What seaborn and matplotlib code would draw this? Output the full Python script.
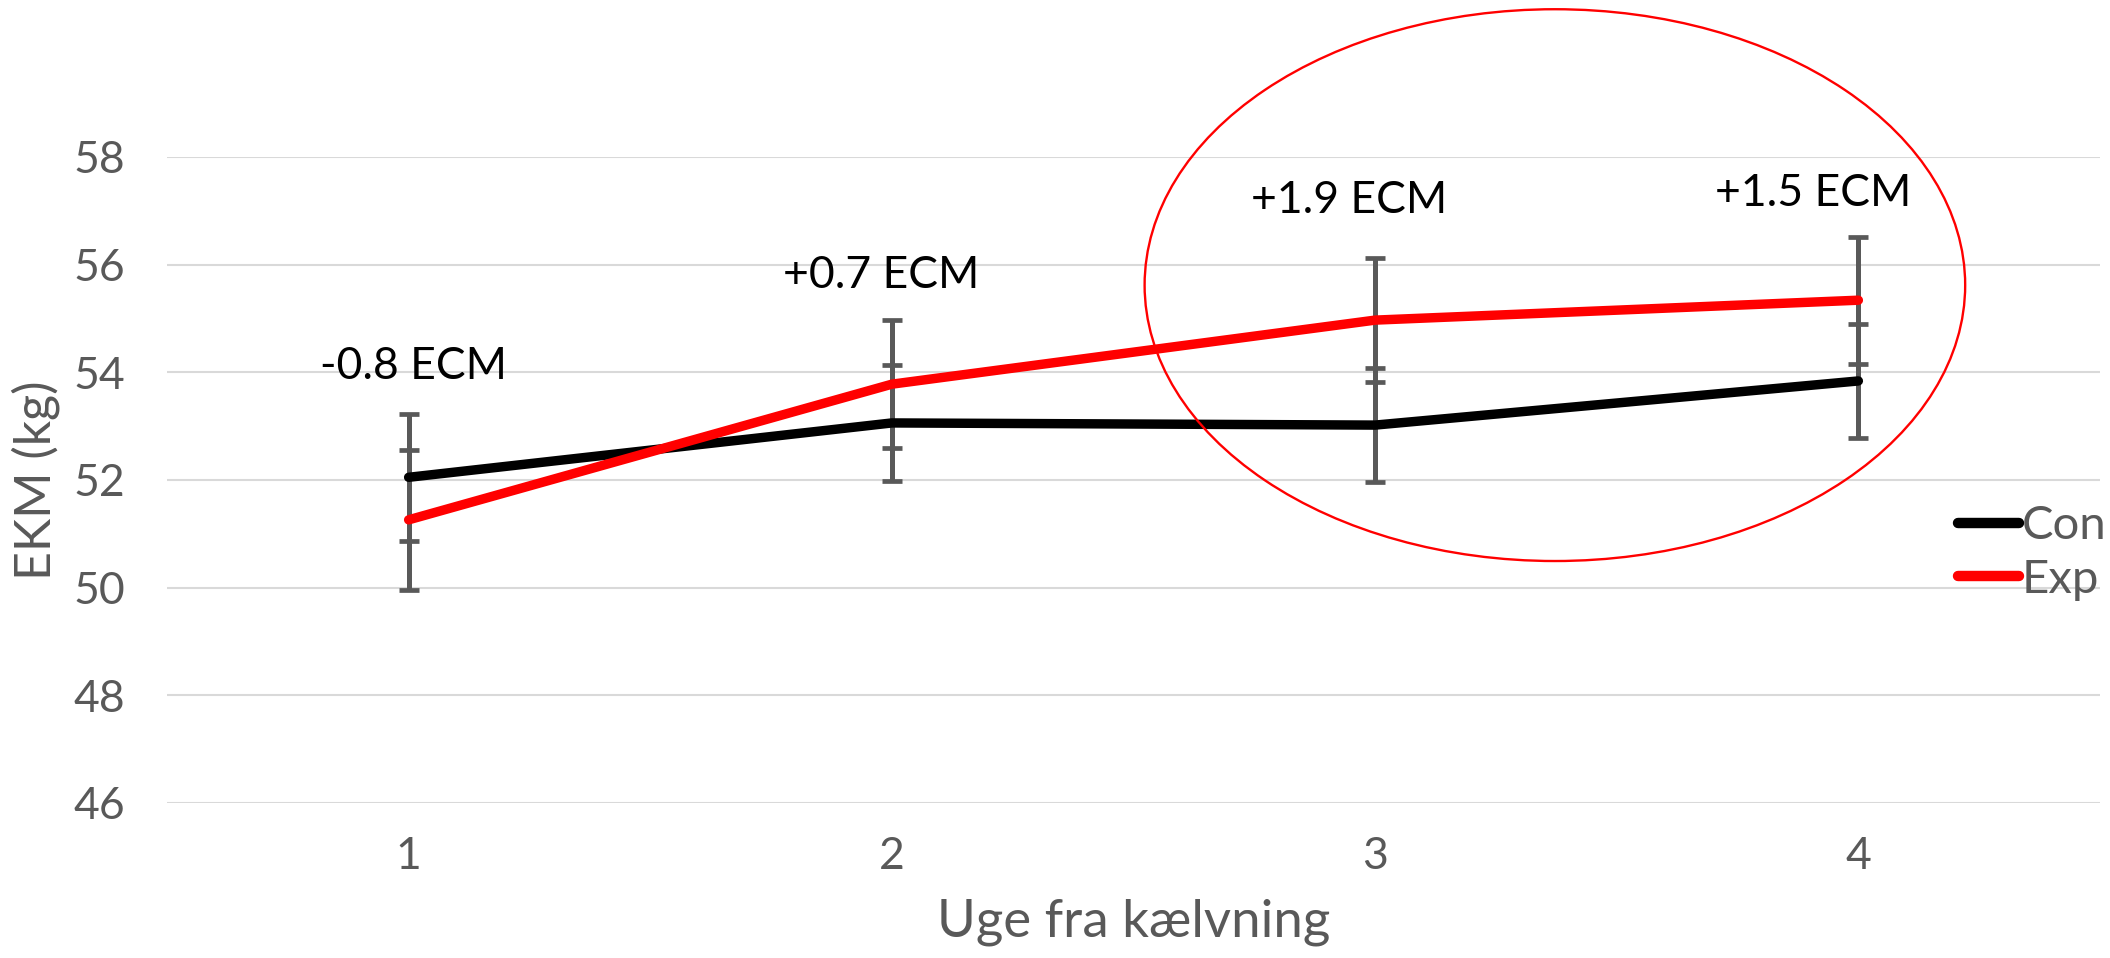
import numpy as np
import pandas as pd
import matplotlib
matplotlib.use("Agg")
import matplotlib.pyplot as plt
import seaborn as sns
from matplotlib.patches import Ellipse

# ---- data ----
weeks = [1, 2, 3, 4]
series_names = ["Con", "Exp"]
con_values = [52.05, 53.06, 53.02, 53.84]
exp_values = [51.26, 53.78, 54.97, 55.34]
con_err = [1.18, 1.08, 1.06, 1.06]
exp_err = [1.30, 1.19, 1.15, 1.18]
diff_labels = ["-0.8 ECM", "+0.7 ECM", "+1.9 ECM", "+1.5 ECM"]
y_ticks = [46, 48, 50, 52, 54, 56, 58]
x_label = "Uge fra kælvning"
y_label = "EKM (kg)"

# annotation placement (data coords)
label_x = [1.01, 1.977, 2.947, 3.907]
label_y = [54.11, 55.80, 57.20, 57.33]

sns.set_theme(style="white")
plt.rcParams["font.family"] = ["Lato", "DejaVu Sans"]

W, H = 2110, 958
fig = plt.figure(figsize=(W / 100, H / 100), dpi=100)
ax = fig.add_axes([167 / W, 1 - 803 / H, (2100 - 167) / W, (803 - 157) / H])

df = pd.DataFrame({
    "week": weeks * 2,
    "EKM": con_values + exp_values,
    "group": [series_names[0]] * len(weeks) + [series_names[1]] * len(weeks),
})

grey = "#595959"
# error bars (drawn under the lines)
for vals, errs in ((con_values, con_err), (exp_values, exp_err)):
    ax.errorbar(weeks, vals, yerr=errs, fmt="none", ecolor=grey,
                elinewidth=3.6, capsize=7, capthick=3.4, zorder=2)

n_before = len(ax.lines)
sns.lineplot(data=df, x="week", y="EKM", hue="group",
             palette={"Con": "#000000", "Exp": "#ff0000"},
             linewidth=6.6, ax=ax, zorder=3)
for line in ax.lines[n_before:]:
    line.set_linewidth(6.8)
    line.set_solid_capstyle("round")
    line.set_solid_joinstyle("round")

for t, x, y in zip(diff_labels, label_x, label_y):
    ax.text(x, y, t, ha="center", va="center", fontsize=32, color="black")

ax.add_patch(Ellipse((3.372, 55.62), 1.698, 10.25, fill=False,
                     edgecolor="#ff0000", lw=1.7, clip_on=False, zorder=4))

ax.set_xlim(0.5, 4.5)
ax.set_ylim(46, 58)
ax.set_yticks(y_ticks)
ax.set_xticks(weeks)
ax.set_xticklabels([str(w) for w in weeks])
ax.grid(axis="y", color="#d9d9d9", linewidth=1.5)
ax.grid(axis="x", visible=False)
for s in ax.spines.values():
    s.set_visible(False)
ax.tick_params(axis="both", length=0, labelsize=32, labelcolor=grey)
ax.tick_params(axis="y", pad=30)
ax.tick_params(axis="x", pad=24)

ax.set_xlabel(x_label, fontsize=38, color=grey)
ax.xaxis.set_label_coords(0.5, -0.148)
ax.set_ylabel(y_label, fontsize=36, color=grey)
ax.yaxis.set_label_coords(-0.0555, 0.5)

handles, labels = ax.get_legend_handles_labels()
leg = ax.legend(handles, labels, loc="center left",
                bbox_to_anchor=(1958 / W, 1 - 553 / H),
                bbox_transform=fig.transFigure, frameon=False, fontsize=34,
                handlelength=1.3, handletextpad=0.05, labelspacing=0.25,
                borderpad=0, borderaxespad=0)
for line in leg.get_lines():
    line.set_linewidth(7.5)
    line.set_solid_capstyle("round")
for txt in leg.get_texts():
    txt.set_color(grey)

fig.savefig("out.png", dpi=100, facecolor="white")
